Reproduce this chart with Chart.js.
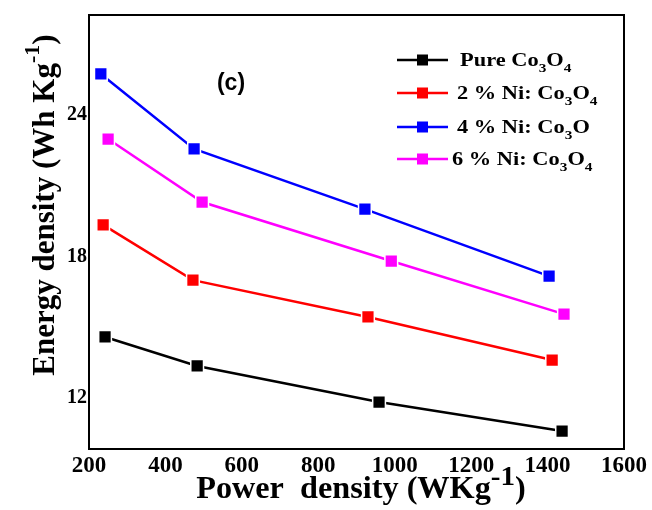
<!DOCTYPE html>
<html>
<head>
<meta charset="utf-8">
<script src="https://cdn.jsdelivr.net/npm/chart.js@4"></script>
<style>
  body { margin: 0; background: #fff; }
  #chart { display: block; }
</style>
</head>
<body>
<canvas id="chart" width="652" height="510"></canvas>
<script>
// data
const seriesNames = ["Pure Co3O4", "2 % Ni: Co3O4", "4 % Ni: Co3O", "6 % Ni: Co3O4"];
const pureX = [242, 483, 959, 1438];
const pureY = [14.6, 13.37, 11.84, 10.61];
const ni2X = [237, 472, 930, 1412];
const ni2Y = [19.35, 17.01, 15.45, 13.62];
const ni4X = [231, 475, 922, 1404];
const ni4Y = [25.75, 22.57, 20.02, 17.18];
const ni6X = [250, 496, 991, 1443];
const ni6Y = [22.99, 20.32, 17.82, 15.57];
const xTicks = [200, 400, 600, 800, 1000, 1200, 1400, 1600];
const yTicks = [12, 18, 24];
const colors = ["#000000", "#ff0000", "#0000ff", "#ff00ff"];

// legend label pieces: [text, isSubscript]
const legendParts = [
  [["Pure Co", 0], ["3", 1], ["O", 0], ["4", 1]],
  [["2 % Ni: Co", 0], ["3", 1], ["O", 0], ["4", 1]],
  [["4 % Ni: Co", 0], ["3", 1], ["O", 0]],
  [["6 % Ni: Co", 0], ["3", 1], ["O", 0], ["4", 1]],
];

const SERIF = '"Liberation Serif", "Times New Roman", serif';

function pts(xs, ys) {
  return xs.map((x, i) => ({ x: x, y: ys[i] }));
}

// draws pieces of text one after the other; each piece {t, size, dy}
function drawRich(ctx, parts, x, y, align, sx) {
  let total = 0;
  parts.forEach(p => {
    ctx.font = "bold " + p.size + "px " + SERIF;
    p.w = ctx.measureText(p.t).width;
    total += p.w;
  });
  ctx.save();
  ctx.translate(x, y);
  ctx.scale(sx, 1);
  let cx = align === "center" ? -total / 2 : 0;
  ctx.textBaseline = "alphabetic";
  ctx.textAlign = "left";
  parts.forEach(p => {
    ctx.font = "bold " + p.size + "px " + SERIF;
    ctx.fillText(p.t, cx, p.dy);
    cx += p.w;
  });
  ctx.restore();
}

const decor = {
  id: "decor",
  afterDraw(chart) {
    const ctx = chart.ctx;
    const a = chart.chartArea;
    ctx.save();
    // frame
    ctx.strokeStyle = "#000";
    ctx.lineWidth = 2;
    ctx.strokeRect(a.left, a.top, a.right - a.left, a.bottom - a.top);

    ctx.fillStyle = "#000";
    // x title
    drawRich(ctx, [
      { t: "Power  density (WKg", size: 31, dy: 0 },
      { t: "-1", size: 28, dy: -13 },
      { t: ")", size: 31, dy: 0 },
    ], 361, 498, "center", 1.04);

    // y title
    ctx.save();
    ctx.translate(54, 205);
    ctx.rotate(-Math.PI / 2);
    drawRich(ctx, [
      { t: "Energy density (Wh Kg", size: 31, dy: 0 },
      { t: "-1", size: 22, dy: -15 },
      { t: ")", size: 31, dy: 0 },
    ], 0, 0, "center", 1.0);
    ctx.restore();

    // (c) label
    ctx.font = "bold 23px Arial, 'Liberation Sans', sans-serif";
    ctx.textAlign = "center";
    ctx.textBaseline = "middle";
    ctx.fillText("(c)", 231, 84);

    // legend
    const rows = [60, 93, 127, 159];
    const textX = [460, 457, 457, 452];
    rows.forEach((ry, i) => {
      ctx.strokeStyle = colors[i];
      ctx.lineWidth = 2.5;
      ctx.beginPath();
      ctx.moveTo(397, ry);
      ctx.lineTo(448, ry);
      ctx.stroke();
      ctx.fillStyle = colors[i];
      ctx.fillRect(417, ry - 5.5, 11, 11);
      ctx.fillStyle = "#000";
      drawRich(ctx, legendParts[i].map(p => (
        p[1] ? { t: p[0], size: 13, dy: 6 } : { t: p[0], size: 19, dy: 0 }
      )), textX[i], ry + 6, "left", 1.18);
    });
    ctx.restore();
  },
};

const ds = (label, xs, ys, c) => ({
  label: label,
  data: pts(xs, ys),
  showLine: true,
  borderColor: c,
  backgroundColor: c,
  borderWidth: 2.5,
  pointStyle: "rect",
  pointRadius: 9,
  pointBorderColor: "#ffffff",
  pointBorderWidth: 1.5,
  pointBackgroundColor: c,
});

new Chart(document.querySelector("#chart").getContext("2d"), {
  type: "scatter",
  data: {
    datasets: [
      ds(seriesNames[0], pureX, pureY, colors[0]),
      ds(seriesNames[1], ni2X, ni2Y, colors[1]),
      ds(seriesNames[2], ni4X, ni4Y, colors[2]),
      ds(seriesNames[3], ni6X, ni6Y, colors[3]),
    ],
  },
  options: {
    responsive: false,
    animation: false,
    layout: { padding: { top: 15, right: 28, left: 0, bottom: 0 } },
    plugins: { legend: { display: false }, tooltip: { enabled: false } },
    scales: {
      x: {
        type: "linear",
        min: 200,
        max: 1600,
        afterBuildTicks: s => { s.ticks = xTicks.map(v => ({ value: v })); },
        afterFit: s => { s.height = 61; },
        grid: { display: false, drawTicks: false },
        border: { display: false },
        ticks: {
          color: "#000",
          padding: 3,
          maxRotation: 0,
          autoSkip: false,
          callback: v => String(v),
          font: { family: SERIF, size: 23, weight: "bold" },
        },
      },
      y: {
        min: 9.85,
        max: 28.25,
        afterBuildTicks: s => { s.ticks = yTicks.map(v => ({ value: v })); },
        afterFit: s => { s.width = 89; },
        grid: { display: false, drawTicks: false },
        border: { display: false },
        ticks: {
          color: "#000",
          padding: 2,
          callback: v => String(v),
          font: { family: SERIF, size: 20, weight: "bold" },
        },
      },
    },
  },
  plugins: [decor],
});
</script>
</body>
</html>
